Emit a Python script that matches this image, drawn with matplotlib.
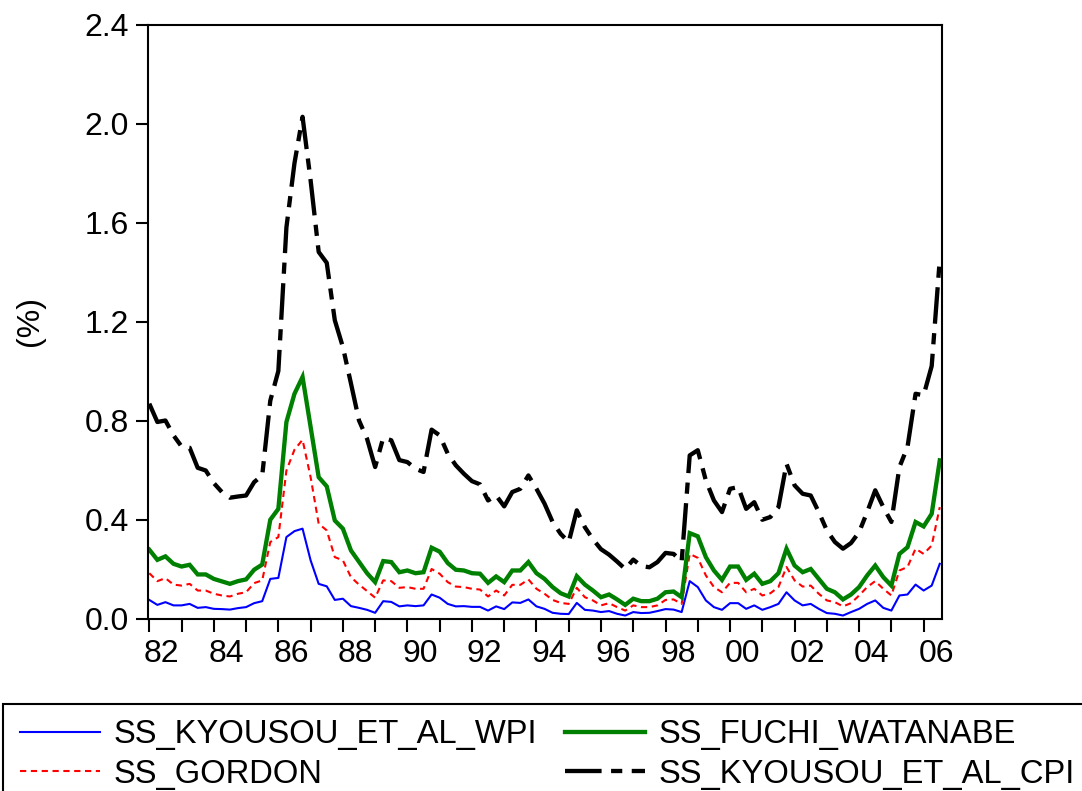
import numpy as np
import matplotlib.pyplot as plt
from matplotlib.patches import Rectangle
from matplotlib.ticker import FixedLocator, NullFormatter, FixedFormatter

plt.rcParams['font.family'] = ['Liberation Sans', 'DejaVu Sans']

# quarterly series, 1982Q1 .. 2006Q3
start_year = 1982
ss_kyousou_wpi = [
    0.075, 0.055, 0.066, 0.053, 0.053, 0.059, 0.043, 0.046, 0.039, 0.038,
    0.036, 0.042, 0.046, 0.062, 0.070, 0.160, 0.164, 0.329, 0.353, 0.363,
    0.235, 0.140, 0.130, 0.075, 0.080, 0.050, 0.043, 0.035, 0.023, 0.070,
    0.067, 0.049, 0.053, 0.050, 0.053, 0.097, 0.084, 0.059, 0.049, 0.050,
    0.047, 0.047, 0.032, 0.049, 0.038, 0.065, 0.063, 0.077, 0.049, 0.039,
    0.023, 0.019, 0.018, 0.063, 0.035, 0.032, 0.026, 0.030, 0.019, 0.012,
    0.026, 0.022, 0.023, 0.030, 0.038, 0.036, 0.026, 0.151, 0.127, 0.073,
    0.046, 0.035, 0.062, 0.062, 0.039, 0.053, 0.035, 0.046, 0.059, 0.106,
    0.073, 0.053, 0.059, 0.039, 0.022, 0.019, 0.012, 0.026, 0.039, 0.059,
    0.073, 0.043, 0.032, 0.093, 0.097, 0.137, 0.113, 0.133, 0.221,
]
ss_gordon = [
    0.183, 0.151, 0.163, 0.137, 0.133, 0.140, 0.113, 0.113, 0.100, 0.093,
    0.089, 0.100, 0.106, 0.143, 0.154, 0.309, 0.329, 0.598, 0.682, 0.722,
    0.571, 0.383, 0.356, 0.248, 0.235, 0.167, 0.137, 0.111, 0.084, 0.154,
    0.151, 0.124, 0.127, 0.120, 0.120, 0.200, 0.181, 0.147, 0.129, 0.127,
    0.120, 0.117, 0.089, 0.113, 0.093, 0.136, 0.136, 0.158, 0.120, 0.100,
    0.075, 0.063, 0.059, 0.124, 0.086, 0.073, 0.053, 0.062, 0.046, 0.032,
    0.053, 0.046, 0.046, 0.053, 0.075, 0.077, 0.059, 0.261, 0.245, 0.174,
    0.127, 0.106, 0.144, 0.144, 0.106, 0.120, 0.093, 0.102, 0.127, 0.208,
    0.154, 0.129, 0.133, 0.100, 0.073, 0.066, 0.049, 0.062, 0.093, 0.127,
    0.151, 0.120, 0.093, 0.194, 0.208, 0.282, 0.261, 0.295, 0.450,
]
ss_fuchi_watanabe = [
    0.278, 0.237, 0.251, 0.221, 0.210, 0.217, 0.178, 0.178, 0.160, 0.150,
    0.140, 0.151, 0.158, 0.197, 0.218, 0.399, 0.443, 0.794, 0.908, 0.976,
    0.774, 0.571, 0.534, 0.396, 0.363, 0.275, 0.229, 0.183, 0.147, 0.232,
    0.228, 0.187, 0.194, 0.183, 0.187, 0.286, 0.270, 0.224, 0.197, 0.194,
    0.183, 0.181, 0.144, 0.170, 0.147, 0.194, 0.194, 0.228, 0.183, 0.160,
    0.127, 0.102, 0.089, 0.171, 0.137, 0.113, 0.086, 0.097, 0.077, 0.055,
    0.080, 0.070, 0.070, 0.080, 0.106, 0.109, 0.086, 0.345, 0.332, 0.248,
    0.194, 0.156, 0.210, 0.210, 0.156, 0.181, 0.140, 0.151, 0.183, 0.282,
    0.214, 0.187, 0.200, 0.160, 0.120, 0.106, 0.077, 0.097, 0.127, 0.174,
    0.214, 0.167, 0.133, 0.261, 0.288, 0.390, 0.372, 0.423, 0.639,
]
ss_kyousou_cpi = [
    0.868, 0.794, 0.800, 0.740, 0.695, 0.690, 0.609, 0.598, 0.547, 0.511,
    0.488, 0.493, 0.497, 0.551, 0.578, 0.880, 1.000, 1.580, 1.840, 2.027,
    1.770, 1.481, 1.437, 1.205, 1.097, 0.950, 0.800, 0.726, 0.612, 0.730,
    0.720, 0.640, 0.632, 0.605, 0.592, 0.763, 0.740, 0.666, 0.619, 0.585,
    0.555, 0.542, 0.477, 0.497, 0.453, 0.511, 0.524, 0.578, 0.524, 0.464,
    0.390, 0.342, 0.309, 0.437, 0.369, 0.320, 0.280, 0.258, 0.230, 0.200,
    0.238, 0.212, 0.207, 0.228, 0.265, 0.261, 0.230, 0.659, 0.680, 0.558,
    0.477, 0.430, 0.524, 0.531, 0.443, 0.470, 0.399, 0.410, 0.450, 0.625,
    0.538, 0.504, 0.497, 0.430, 0.356, 0.309, 0.282, 0.305, 0.349, 0.430,
    0.518, 0.450, 0.390, 0.612, 0.693, 0.908, 0.902, 1.020, 1.450,
]
series_names = ['SS_KYOUSOU_ET_AL_WPI', 'SS_GORDON',
                'SS_FUCHI_WATANABE', 'SS_KYOUSOU_ET_AL_CPI']
year_labels = ['82', '84', '86', '88', '90', '92', '94', '96',
               '98', '00', '02', '04', '06']
y_ticks = [0.0, 0.4, 0.8, 1.2, 1.6, 2.0, 2.4]

W, H = 1082, 791
fig = plt.figure(figsize=(W / 100, H / 100), dpi=100)
ax = fig.add_axes([148 / W, 1 - 618.5 / H, (941.7 - 148) / W, (618.5 - 24.5) / H])

t = start_year + np.arange(len(ss_kyousou_wpi)) / 4.0

l_wpi, = ax.plot(t, ss_kyousou_wpi, color='#0000FF', lw=1.5)
l_gor, = ax.plot(t, ss_gordon, color='#FF0000', lw=1.5, dashes=(3.0, 2.2))
l_fw, = ax.plot(t, ss_fuchi_watanabe, color='#008000', lw=3.1,
                solid_joinstyle='miter')
l_cpi, = ax.plot(t, ss_kyousou_cpi, color='black', lw=3.1,
                 dashes=(8.5, 2.2, 2.6, 2.2))

ax.set_xlim(1981.96, 2006.56)
ax.set_ylim(0, 2.4)

# year ticks every year, labels sit a bit to the right of their tick
years = np.arange(1982, 2007)
ax.xaxis.set_major_locator(FixedLocator(years))
ax.xaxis.set_major_formatter(NullFormatter())
label_pos = [1982 + 2 * i + 0.39 for i in range(len(year_labels))]
ax.xaxis.set_minor_locator(FixedLocator(label_pos))
ax.xaxis.set_minor_formatter(FixedFormatter(year_labels))
ax.tick_params(axis='x', which='major', direction='out', length=9.5,
               width=1.5, bottom=True, top=False)
ax.tick_params(axis='x', which='minor', length=0, pad=15, labelsize=23)

ax.set_yticks(y_ticks)
ax.set_yticklabels([f'{v:.1f}' for v in y_ticks])
ax.tick_params(axis='y', direction='out', length=8.5, width=1.5,
               labelsize=23, pad=5, left=True, right=False)

for sp in ax.spines.values():
    sp.set_linewidth(1.5)

fig.text(30 / W, 1 - 321 / H, '(%)', rotation=90, fontsize=23,
         ha='center', va='center')

leg = fig.legend([l_wpi, l_gor, l_fw, l_cpi], series_names, ncol=2,
                 loc='upper left', bbox_to_anchor=(20 / W, 1 - 719 / H),
                 frameon=False, fontsize=23.6, handlelength=2.45,
                 handletextpad=0.4, columnspacing=0.86, labelspacing=0.27,
                 borderpad=0, borderaxespad=0)

# legend frame runs past the right and bottom edges
fig.add_artist(Rectangle((3 / W, -0.05), 1.1, 0.05 + 1 - 704 / H,
                         transform=fig.transFigure, fill=False,
                         lw=1.5, edgecolor='black'))

fig.savefig('out.png', dpi=100)
